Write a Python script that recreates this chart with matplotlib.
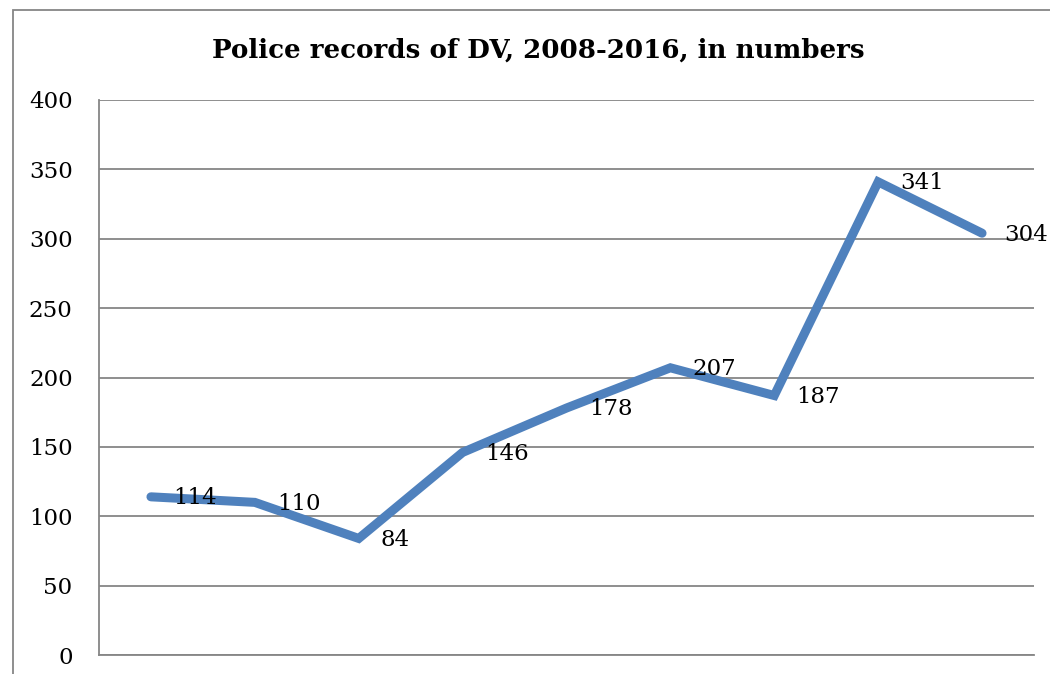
"""Police records of DV, 2008-2016 - line chart."""

import matplotlib

matplotlib.use("Agg")
import matplotlib.pyplot as plt
from matplotlib.patches import Rectangle

years = [2008, 2009, 2010, 2011, 2012, 2013, 2014, 2015, 2016]
records = [114, 110, 84, 146, 178, 207, 187, 341, 304]
y_ticks = [0, 50, 100, 150, 200, 250, 300, 350, 400]

LINE_BLUE = "#4F81BD"
GRID_GRAY = "#868686"

plt.rcParams["font.family"] = ["DejaVu Serif"]

fig = plt.figure(figsize=(10.5, 6.74), dpi=100)
fig.patches.append(
    Rectangle((13 / 1050, -0.1), 1.2, 1.1 - 10 / 674, transform=fig.transFigure,
              fill=False, edgecolor=GRID_GRAY, linewidth=1.3, zorder=0)
)

ax = fig.add_axes([99 / 1050, 1 - 655 / 674, (1034 - 99) / 1050, (655 - 100) / 674])
x = list(range(len(years)))
ax.plot(x, records, color=LINE_BLUE, linewidth=6.5, solid_capstyle="round",
        solid_joinstyle="miter", zorder=3, clip_on=False)

for xi, v in zip(x, records):
    ax.annotate(str(v), (xi, v), xytext=(16, -1), textcoords="offset points",
                ha="left", va="center", fontsize=16.5, color="black", zorder=4)

ax.set_xlim(-0.5, len(years) - 0.5)
ax.set_ylim(0, 400)
ax.set_yticks(y_ticks)
ax.set_xticks([])
ax.tick_params(axis="y", length=0, pad=19, labelsize=16.5, labelcolor="black")
ax.grid(True, axis="y", color=GRID_GRAY, linewidth=1.3)
ax.set_axisbelow(True)
for side in ("top", "right"):
    ax.spines[side].set_visible(False)
for side in ("left", "bottom"):
    ax.spines[side].set_color(GRID_GRAY)
    ax.spines[side].set_linewidth(1.3)

fig.text(538 / 1050, 1 - 50 / 674, "Police records of DV, 2008-2016, in numbers",
         ha="center", va="center", fontsize=18.8, fontweight="bold")

fig.savefig("out.png", dpi=100)
